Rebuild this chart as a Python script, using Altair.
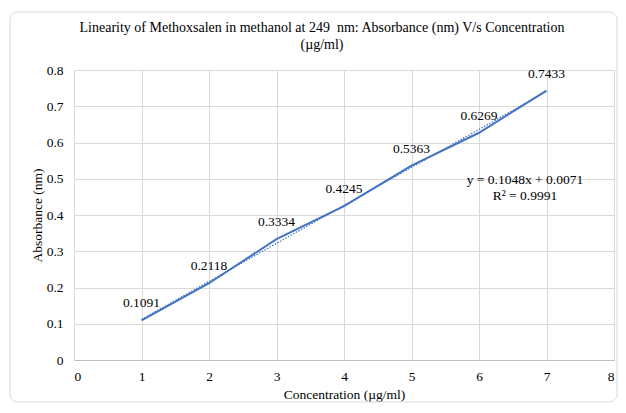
import altair as alt
import pandas as pd

conc = [1, 2, 3, 4, 5, 6, 7]
absorb = [0.1091, 0.2118, 0.3334, 0.4245, 0.5363, 0.6269, 0.7433]
labels = ["0.1091", "0.2118", "0.3334", "0.4245", "0.5363", "0.6269", "0.7433"]
eq_text = ["y = 0.1048x + 0.0071", "R² = 0.9991"]
eq_x = [6.68, 6.68]
eq_y = [0.497, 0.453]
x_ticks = [0, 1, 2, 3, 4, 5, 6, 7, 8]
y_ticks = [0, 0.1, 0.2, 0.3, 0.4, 0.5, 0.6, 0.7, 0.8]

df = pd.DataFrame({"x": conc, "y": absorb, "lab": labels})
eq = pd.DataFrame({"x": eq_x, "y": eq_y, "t": eq_text})

FONT = "Liberation Serif"
FS = 13.5
BLUE = "#4472C4"

xs = alt.Scale(domain=[0, 8], nice=False)
ys = alt.Scale(domain=[0, 0.8], nice=False)

X = alt.X("x:Q", scale=xs, title="Concentration (µg/ml)",
          axis=alt.Axis(values=x_ticks, format="d", grid=True, domain=True,
                        domainColor="#bfbfbf", ticks=False, labelPadding=9,
                        titlePadding=5))
Y = alt.Y("y:Q", scale=ys, title="Absorbance (nm)",
          axis=alt.Axis(values=y_ticks, format="~g", grid=True, domain=False,
                        ticks=False, labelPadding=11, titlePadding=2,
                        labelOverlap=False))

base = alt.Chart(df)

line = base.mark_line(color=BLUE, strokeWidth=2).encode(x=X, y=Y)

trend = base.transform_regression("x", "y", extent=[1, 7]).mark_line(
    color=BLUE, strokeWidth=1.2, strokeDash=[1.5, 1.5]
).encode(x=X, y=Y)

text = base.mark_text(font=FONT, fontSize=FS, color="#000000", dy=-17, baseline="middle").encode(
    x=X, y=Y, text="lab:N"
)

eqt = alt.Chart(eq).mark_text(font=FONT, fontSize=FS, color="#000000", baseline="middle").encode(
    x=X, y=Y, text="t:N"
)

frame = alt.Chart(pd.DataFrame({"a": [0]})).mark_rect(
    fill=None, stroke="#d9d9d9", strokeWidth=1, cornerRadius=8
).encode(x=alt.value(-64), x2=alt.value(543), y=alt.value(-58), y2=alt.value(332))

chart = alt.layer(frame, line, trend, text, eqt).properties(
    width=540,
    height=290,
    autosize=alt.AutoSizeParams(type="none"),
    padding={"left": 66, "top": 62, "right": 4, "bottom": 43},
    title=alt.Title(
        ["Linearity of Methoxsalen in methanol at 249\u00a0 nm: Absorbance (nm) V/s Concentration", "(µg/ml)"],
        font=FONT, fontSize=14, fontWeight="normal", color="#000000",
        anchor="middle", dx=-22, offset=-40, lineHeight=17,
    ),
).configure_view(stroke=None).configure_axis(
    labelFont=FONT, titleFont=FONT, labelFontSize=FS, titleFontSize=FS,
    labelColor="#000000", titleColor="#000000", titleFontWeight="normal",
    gridColor="#d9d9d9", gridWidth=1,
)

chart.save("out.html", embed_options={"renderer": "svg", "actions": False})
